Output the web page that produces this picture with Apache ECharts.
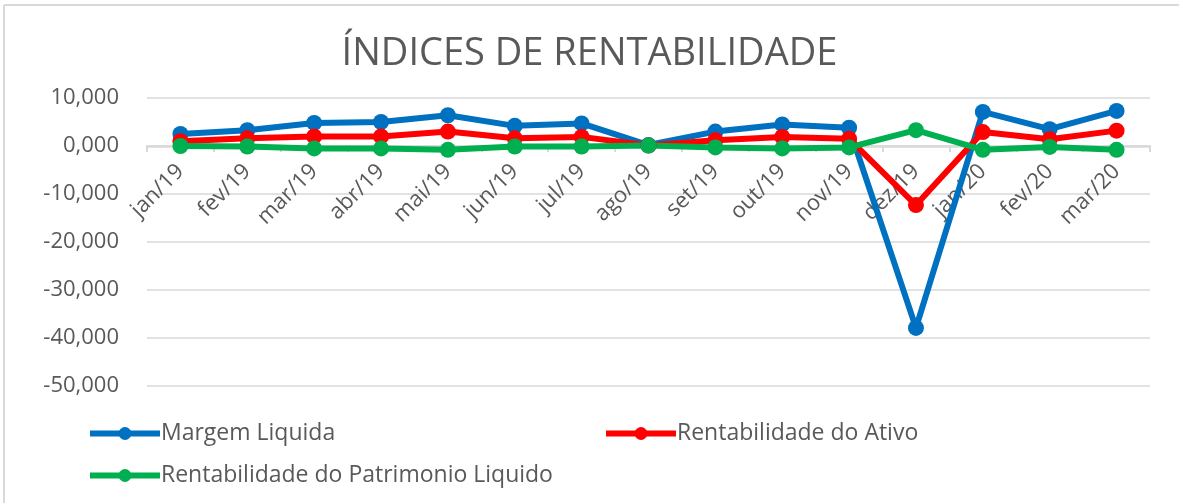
<!DOCTYPE html>
<html>
<head>
<meta charset="utf-8">
<script src="https://cdn.jsdelivr.net/npm/echarts@6/dist/echarts.min.js"></script>
<style>
    html, body { margin: 0; padding: 0; background: #fff; }
    #chart { width: 1179px; height: 503px; }
</style>
</head>
<body>
<div id="chart"></div>
<script>
var months = ['jan/19', 'fev/19', 'mar/19', 'abr/19', 'mai/19', 'jun/19', 'jul/19', 'ago/19',
    'set/19', 'out/19', 'nov/19', 'dez/19', 'jan/20', 'fev/20', 'mar/20'];

var margemLiquida = [2.5, 3.3, 4.8, 5.0, 6.4, 4.2, 4.7, 0.2, 3.0, 4.5, 3.8, -37.9, 7.1, 3.5, 7.3];
var rentAtivo = [1.0, 1.6, 2.0, 2.0, 3.0, 1.6, 1.9, 0.1, 1.2, 1.9, 1.5, -12.3, 2.9, 1.4, 3.2];
var rentPatrimonio = [0.0, -0.1, -0.5, -0.5, -0.8, -0.1, -0.1, 0.1, -0.3, -0.5, -0.3, 3.3, -0.8, -0.2, -0.8];

var fontName = "'Open Sans', sans-serif";
var textColor = '#595959';
var gridColor = '#d9d9d9';

function makeSeries(name, color, values) {
    return {
        name: name,
        type: 'line',
        data: values,
        symbol: 'circle',
        symbolSize: 16,
        lineStyle: { width: 6, color: color },
        itemStyle: { color: color }
    };
}

function makeLegend(name, left, top) {
    return {
        data: [name],
        left: left,
        top: top,
        itemWidth: 70,
        itemHeight: 16,
        itemGap: 0,
        padding: 0,
        lineStyle: { width: 6 },
        textStyle: { fontFamily: fontName, fontSize: 23, color: textColor, padding: [0, 0, 0, -4] }
    };
}

var myChart = echarts.init(document.getElementById('chart'));

// x axis sits on the zero line: distance from grid bottom (-50) to 0 is 240px
var option = {
    backgroundColor: '#fff',
    animation: false,
    title: {
        text: 'ÍNDICES DE RENTABILIDADE',
        left: 'center',
        top: 30,
        textStyle: { fontFamily: fontName, fontSize: 38, fontWeight: 'normal', color: textColor }
    },
    graphic: [
        { type: 'line', shape: { x1: 4, y1: 5, x2: 1179, y2: 5 }, style: { stroke: gridColor, lineWidth: 2 } },
        { type: 'line', shape: { x1: 4, y1: 5, x2: 4, y2: 503 }, style: { stroke: gridColor, lineWidth: 2 } }
    ],
    legend: [
        makeLegend('Margem Liquida', 87, 422),
        makeLegend('Rentabilidade do Ativo', 603, 422),
        makeLegend('Rentabilidade do Patrimonio Liquido', 87, 464)
    ],
    grid: { left: 147, right: 29, top: 98, bottom: 117 },
    xAxis: {
        type: 'category',
        data: months,
        boundaryGap: true,
        position: 'bottom',
        offset: -240,
        axisLine: { onZero: false, lineStyle: { color: gridColor, width: 2.5 } },
        axisTick: { show: true, length: 6, lineStyle: { color: gridColor, width: 2 } },
        axisLabel: {
            interval: 0,
            rotate: 45,
            margin: 22,
            fontFamily: fontName,
            fontSize: 22,
            color: textColor
        }
    },
    yAxis: {
        type: 'value',
        min: -50,
        max: 10,
        interval: 10,
        axisLine: { show: false },
        axisTick: { show: false },
        splitLine: { lineStyle: { color: gridColor, width: 1.5 } },
        axisLabel: {
            margin: 28,
            fontFamily: fontName,
            fontSize: 22,
            color: textColor,
            formatter: function (v) {
                return v.toFixed(3).replace('.', ',');
            }
        }
    },
    series: [
        makeSeries('Margem Liquida', '#0070C0', margemLiquida),
        makeSeries('Rentabilidade do Ativo', '#FF0000', rentAtivo),
        makeSeries('Rentabilidade do Patrimonio Liquido', '#00B050', rentPatrimonio)
    ]
};

myChart.setOption(option);
</script>
</body>
</html>
